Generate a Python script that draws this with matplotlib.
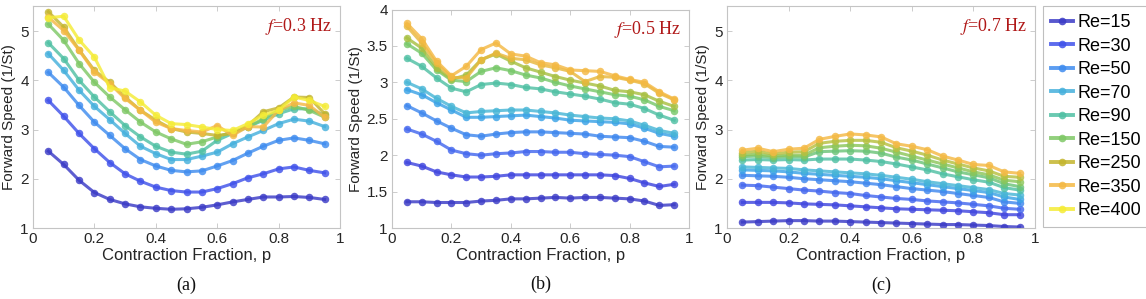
import matplotlib
matplotlib.use("Agg")
import matplotlib.pyplot as plt
from matplotlib.lines import Line2D

plt.rcParams['font.family'] = ['Liberation Sans', 'DejaVu Sans']
plt.rcParams['mathtext.fontset'] = 'stix'

p = [0.05, 0.10, 0.15, 0.20, 0.25, 0.30, 0.35, 0.40, 0.45, 0.50,
     0.55, 0.60, 0.65, 0.70, 0.75, 0.80, 0.85, 0.90, 0.95]

# ---- panel (a), f = 0.3 Hz ----
a_re15 = [2.56, 2.29, 1.97, 1.72, 1.58, 1.49, 1.43, 1.40, 1.38, 1.39, 1.42, 1.47, 1.53, 1.58, 1.63, 1.63, 1.64, 1.62, 1.58]
a_re30 = [3.59, 3.27, 2.92, 2.61, 2.33, 2.10, 1.95, 1.83, 1.76, 1.73, 1.73, 1.80, 1.90, 2.02, 2.10, 2.20, 2.24, 2.17, 2.12]
a_re50 = [4.16, 3.86, 3.49, 3.15, 2.88, 2.61, 2.39, 2.26, 2.17, 2.14, 2.16, 2.26, 2.37, 2.52, 2.66, 2.78, 2.83, 2.78, 2.71]
a_re70 = [4.54, 4.20, 3.80, 3.47, 3.20, 2.92, 2.66, 2.51, 2.39, 2.39, 2.46, 2.54, 2.71, 2.85, 2.98, 3.12, 3.21, 3.17, 3.06]
a_re90 = [4.76, 4.44, 4.00, 3.66, 3.36, 3.08, 2.85, 2.66, 2.54, 2.50, 2.56, 2.78, 2.92, 3.05, 3.19, 3.32, 3.42, 3.42, 3.29]
a_re150 = [5.14, 4.81, 4.34, 3.96, 3.66, 3.40, 3.15, 2.95, 2.81, 2.70, 2.75, 2.85, 2.95, 3.05, 3.22, 3.39, 3.47, 3.39, 3.25]
a_re250 = [5.39, 5.08, 4.62, 4.20, 3.96, 3.66, 3.39, 3.19, 3.02, 2.95, 2.92, 2.88, 2.92, 3.08, 3.36, 3.44, 3.66, 3.65, 3.32]
a_re350 = [5.28, 5.01, 4.61, 4.17, 3.93, 3.63, 3.39, 3.15, 3.02, 2.98, 2.95, 3.08, 2.88, 3.06, 3.05, 3.39, 3.54, 3.49, 3.25]
a_re400 = [5.27, 5.30, 4.82, 4.47, 3.85, 3.78, 3.56, 3.29, 3.12, 3.10, 3.05, 3.00, 2.98, 3.12, 3.29, 3.39, 3.66, 3.59, 3.47]

# ---- panel (b), f = 0.5 Hz ----
b_s1 = [1.36, 1.36, 1.35, 1.35, 1.35, 1.37, 1.38, 1.40, 1.40, 1.41, 1.42, 1.41, 1.42, 1.42, 1.41, 1.40, 1.37, 1.31, 1.32]
b_s2 = [1.90, 1.85, 1.77, 1.73, 1.70, 1.70, 1.71, 1.73, 1.73, 1.73, 1.73, 1.73, 1.73, 1.73, 1.72, 1.68, 1.62, 1.57, 1.60]
b_s3 = [2.36, 2.29, 2.19, 2.07, 2.02, 2.00, 2.02, 2.03, 2.05, 2.05, 2.04, 2.04, 2.02, 2.01, 2.00, 1.98, 1.91, 1.84, 1.85]
b_s4 = [2.68, 2.58, 2.47, 2.37, 2.28, 2.26, 2.29, 2.31, 2.32, 2.32, 2.31, 2.30, 2.29, 2.26, 2.25, 2.24, 2.19, 2.12, 2.11]
b_s5 = [2.90, 2.83, 2.72, 2.62, 2.52, 2.52, 2.53, 2.54, 2.55, 2.53, 2.51, 2.48, 2.47, 2.46, 2.45, 2.43, 2.37, 2.30, 2.26]
b_s6 = [3.00, 2.91, 2.78, 2.67, 2.58, 2.60, 2.61, 2.62, 2.62, 2.60, 2.58, 2.55, 2.53, 2.51, 2.50, 2.47, 2.41, 2.34, 2.30]
b_s7 = [3.33, 3.22, 3.06, 2.92, 2.87, 2.97, 2.99, 2.97, 2.93, 2.91, 2.87, 2.84, 2.81, 2.77, 2.72, 2.70, 2.64, 2.55, 2.48]
b_s8 = [3.53, 3.40, 3.17, 3.03, 3.01, 3.15, 3.20, 3.16, 3.10, 3.06, 3.00, 2.95, 2.91, 2.87, 2.83, 2.81, 2.76, 2.67, 2.61]
b_s9 = [3.61, 3.47, 3.20, 3.04, 3.10, 3.31, 3.39, 3.29, 3.20, 3.14, 3.08, 3.03, 2.99, 2.95, 2.89, 2.87, 2.83, 2.74, 2.67]
b_s10 = [3.77, 3.54, 3.26, 3.07, 3.06, 3.31, 3.40, 3.33, 3.31, 3.24, 3.20, 3.15, 3.01, 3.08, 3.07, 3.03, 2.98, 2.85, 2.76]
b_s11 = [3.81, 3.60, 3.29, 3.09, 3.22, 3.45, 3.54, 3.39, 3.36, 3.27, 3.24, 3.17, 3.16, 3.15, 3.09, 3.04, 3.00, 2.87, 2.77]

# ---- panel (c), f = 0.7 Hz ----
c_s1 = [1.12, 1.13, 1.14, 1.15, 1.15, 1.14, 1.14, 1.13, 1.12, 1.11, 1.10, 1.09, 1.08, 1.07, 1.07, 1.06, 1.05, 1.03, 1.02]
c_s2 = [1.52, 1.52, 1.52, 1.51, 1.49, 1.48, 1.47, 1.45, 1.43, 1.41, 1.39, 1.38, 1.37, 1.36, 1.35, 1.33, 1.31, 1.27, 1.27]
c_s3 = [1.87, 1.86, 1.83, 1.80, 1.77, 1.75, 1.72, 1.70, 1.66, 1.63, 1.60, 1.58, 1.55, 1.53, 1.51, 1.48, 1.45, 1.40, 1.38]
c_s4 = [2.07, 2.06, 2.05, 2.03, 2.00, 1.98, 1.96, 1.94, 1.91, 1.88, 1.84, 1.80, 1.77, 1.74, 1.70, 1.66, 1.62, 1.53, 1.50]
c_s5 = [2.18, 2.17, 2.16, 2.14, 2.11, 2.09, 2.07, 2.05, 2.03, 2.00, 1.96, 1.92, 1.88, 1.84, 1.80, 1.76, 1.72, 1.63, 1.58]
c_s6 = [2.24, 2.23, 2.22, 2.21, 2.18, 2.16, 2.14, 2.12, 2.10, 2.07, 2.03, 1.99, 1.94, 1.90, 1.86, 1.82, 1.78, 1.70, 1.67]
c_s7 = [2.38, 2.39, 2.38, 2.39, 2.38, 2.40, 2.40, 2.40, 2.38, 2.35, 2.30, 2.24, 2.18, 2.10, 2.04, 1.98, 1.93, 1.82, 1.77]
c_s8 = [2.45, 2.46, 2.43, 2.45, 2.44, 2.55, 2.56, 2.57, 2.56, 2.52, 2.44, 2.38, 2.30, 2.22, 2.14, 2.08, 2.02, 1.90, 1.84]
c_s9 = [2.48, 2.50, 2.46, 2.48, 2.48, 2.63, 2.66, 2.68, 2.67, 2.62, 2.54, 2.46, 2.38, 2.30, 2.22, 2.14, 2.08, 1.97, 1.94]
c_s10 = [2.53, 2.56, 2.50, 2.54, 2.55, 2.72, 2.76, 2.78, 2.78, 2.74, 2.63, 2.56, 2.48, 2.38, 2.30, 2.22, 2.16, 2.05, 2.03]
c_s11 = [2.58, 2.62, 2.55, 2.60, 2.62, 2.80, 2.86, 2.91, 2.89, 2.85, 2.71, 2.66, 2.59, 2.46, 2.38, 2.29, 2.27, 2.14, 2.11]

legend_labels = ['Re=15', 'Re=30', 'Re=50', 'Re=70', 'Re=90', 'Re=150', 'Re=250', 'Re=350', 'Re=400']
legend_colors = ['#3b3bc6', '#4052ea', '#3f8cef', '#45b0dc', '#50c0a4', '#7fc866', '#c4b52e', '#f4b944', '#f5ec36']

panel_a = [a_re15, a_re30, a_re50, a_re70, a_re90, a_re150, a_re250, a_re350, a_re400]
colors_a = legend_colors
panel_b = [b_s1, b_s2, b_s3, b_s4, b_s5, b_s6, b_s7, b_s8, b_s9, b_s10, b_s11]
colors_b = ['#3b3bc6', '#4046de', '#4468ee', '#3f88ee', '#3aa2e6', '#48b6d6', '#50c0a4', '#78c86a',
            '#a8c042', '#e8b83c', '#f4b944']
panel_c = [c_s1, c_s2, c_s3, c_s4, c_s5, c_s6, c_s7, c_s8, c_s9, c_s10, c_s11]
colors_c = ['#3b3bc6', '#4046de', '#4468ee', '#3f88ee', '#3aa2e6', '#48b6d6', '#50c0a4', '#6cc478',
            '#8cc65a', '#b8c040', '#f4b944']

freq_text = ['0.3', '0.5', '0.7']
panel_tags = ['(a)', '(b)', '(c)']
xticks = [0, 0.2, 0.4, 0.6, 0.8, 1]
xticklabels = ['0', '0.2', '0.4', '0.6', '0.8', '1']
yticks_ac = [1, 2, 3, 4, 5]
yticks_b = [1, 1.5, 2, 2.5, 3, 3.5, 4]

W, H = 1146, 299
fig = plt.figure(figsize=(W / 100, H / 100), dpi=100)

def fbox(x0, x1, ytop, ybot):
    return [x0 / W, 1 - ybot / H, (x1 - x0) / W, (ybot - ytop) / H]

ax_a = fig.add_axes(fbox(33, 340, 6.4, 228))
ax_b = fig.add_axes(fbox(392, 689, 9.5, 228))
ax_c = fig.add_axes(fbox(727, 1035, 6.4, 228))

setups = [
    (ax_a, panel_a, colors_a, (1, 5.5), yticks_ac),
    (ax_b, panel_b, colors_b, (1, 4), yticks_b),
    (ax_c, panel_c, colors_c, (1, 5.5), yticks_ac),
]

spine_col = '#c4c4c4'
text_col = '#262626'
for i, (ax, series, cols, ylim, yt) in enumerate(setups):
    for ys, col in zip(series, cols):
        ax.plot(p, ys, '-o', color=col, lw=2.2, ms=5.4, alpha=0.82, mew=0)
    ax.set_xlim(0, 1)
    ax.set_ylim(*ylim)
    ax.set_xticks(xticks)
    ax.set_xticklabels(xticklabels)
    ax.set_yticks(yt)
    ax.set_yticklabels(['%g' % v for v in yt])
    ax.tick_params(direction='in', length=3.5, width=0.6, colors=spine_col,
                   labelcolor=text_col, labelsize=11, top=True, right=True, pad=3)
    for s in ax.spines.values():
        s.set_color(spine_col)
        s.set_linewidth(0.8)
    ax.set_xlabel('Contraction Fraction, p', fontsize=12, color=text_col, labelpad=1)
    ax.set_ylabel('Forward Speed (1/St)', fontsize=11, color=text_col, labelpad=3)
    ax.text(0.975, 0.955, r'$f$=' + freq_text[i] + ' Hz', transform=ax.transAxes,
            ha='right', va='top', fontsize=13, color='#b01818',
            family=['Liberation Serif', 'DejaVu Serif'])
    ax.text(0.5, -0.22, panel_tags[i], transform=ax.transAxes, ha='center', va='top',
            fontsize=13, color='#111111', family=['Liberation Serif', 'DejaVu Serif'])

handles = [Line2D([0], [0], color=c, lw=2.8, marker='o', ms=5.5, alpha=0.85, mew=0)
           for c in legend_colors]
leg = fig.legend(handles, legend_labels, loc='upper left',
                 bbox_to_anchor=(1043 / W, 1 - 6 / H), fontsize=13,
                 frameon=True, fancybox=False, edgecolor='#b0b0b0',
                 handlelength=1.2, handletextpad=0.25, labelspacing=0.36,
                 borderpad=0.45, borderaxespad=0)
leg.get_frame().set_linewidth(0.8)

fig.savefig('out.png', dpi=100)
